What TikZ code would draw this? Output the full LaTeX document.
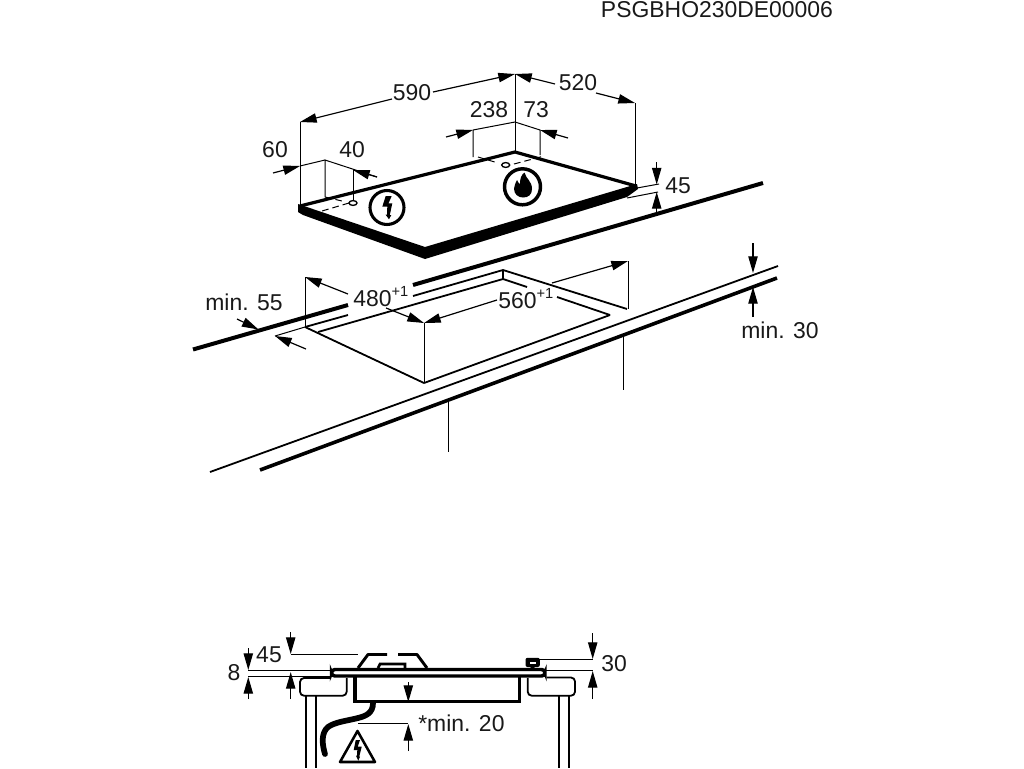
\documentclass[tikz,border=0pt]{standalone}
\usepackage{fontspec}
\setmainfont{Liberation Sans}
\usetikzlibrary{arrows.meta}
\tikzset{
  dimarrow/.style={-{Triangle[length=12.5pt,width=7pt]},line width=.9pt},
  dimline/.style={line width=.75pt},
  edgeline/.style={line width=1.35pt},
  heavyline/.style={line width=3pt},
  hobline/.style={line width=2.4pt,line join=round},
  dimtext/.style={text=black!90,font=\fontsize{17.2}{20}\selectfont,inner sep=0pt},
}
\newcommand{\plusone}{\raisebox{.42em}{\fontsize{11}{10}\selectfont +1}}
\begin{document}
\begin{tikzpicture}[x=.75pt,y=-.75pt]
\useasboundingbox (0,0) rectangle (1024,768);

\node[dimtext] (code) at (717,10) {PSGBHO230DE00006};

% hob
\fill[line join=round] (298,204)--(425,247)--(637,184)--(638,189)--(627,197)--(425,259)--(303,215)--(298,212)--cycle;
\draw[hobline] (300,206)--(515,152)--(636,186);

% hob dimensions
\draw[dimline] (300,205)--(300,122);
\draw[dimline] (515,152)--(515,74);
\draw[dimline] (635,185)--(635,103);
\draw[dimarrow] (392,99)--(300,122);
\draw[dimarrow] (433,92)--(515,74);
\draw[dimarrow] (555,84)--(515,74);
\draw[dimarrow] (596,93)--(635,103);
\node[dimtext] (w590) at (412,93) {590};
\node[dimtext] (d520) at (578,83) {520};

\draw[dimline] (325,197)--(325,160)--(377,177);
\draw[dimline] (300,166)--(325,160);
\draw[dimarrow] (273,173)--(300,166);
\draw[dimarrow] (377,177)--(353,170);
\draw[dimline] (353,170)--(353,200);
\draw[line width=1pt] (353,203) ellipse (4 and 2.4);
\draw[dimline,dash pattern=on 5pt off 3pt] (325,197)--(342,201);
\draw[dimline,dash pattern=on 5pt off 3pt] (349,203)--(322,211);
\node[dimtext] (l60) at (275,150) {60};
\node[dimtext] (l40) at (352,150) {40};

\draw[dimline] (473,157)--(473,130)--(515,122)--(540,130)--(540,155);
\draw[dimarrow] (446,137)--(473,130);
\draw[dimarrow] (568,138)--(540,130);
\draw[line width=1pt] (505.7,165) ellipse (4 and 2.4);
\draw[dimline,dash pattern=on 5pt off 3pt] (478,157)--(498,163);
\draw[dimline,dash pattern=on 5pt off 3pt] (514,164)--(544,156);
\node[dimtext] (l238) at (489,110) {238};
\node[dimtext] (l73) at (536,110) {73};

% symbols
\draw[line width=2.6pt] (522.5,186.8) circle (18);
\fill (524.5,172.5) .. controls (526,179) and (532,181) .. (532,189) .. controls (532,195) and (528,197.5) .. (523,197.5) .. controls (518,197.5) and (514,194) .. (514,188.5) .. controls (514,185) and (516,183) .. (517,180) .. controls (518,182) and (519,184) .. (520,184) .. controls (520,179) and (521,175) .. (524.5,172.5)--cycle;
\draw[line width=2.3pt] (387,207.5) circle (17);
\fill (385.7,196)--(391.7,196)--(388.5,203.3)--(392.3,203.3)--(389.8,215)--(391.3,215)--(389,219.3)--(385.5,214.5)--(387,214.5)--(387.3,206.7)--(382.3,206.7)--cycle;

% 45
\draw[dimline] (637,188)--(659,184);
\draw[dimline] (627,198)--(658,192);
\draw[dimarrow] (656.7,162)--(656.7,184.5);
\draw[dimarrow] (656.7,213)--(656.7,192);
\node[dimtext] (h45) at (678,186) {45};

% worktop
\draw[heavyline] (763,183)--(413,285);
\draw[heavyline] (348,305)--(193,349.5);
\draw[edgeline] (413,296)--(503,270);
\draw[edgeline] (348,315)--(305,327);
\draw[edgeline] (318,332)--(503,279);
\draw[edgeline] (503,270)--(503,279);
\draw[edgeline] (503,270)--(627,309);
\draw[edgeline] (503,279)--(527,287);
\draw[edgeline] (557,297)--(610,315);
\draw[edgeline] (610,315)--(424,383);
\draw[edgeline] (305,327)--(424,383);
\draw[edgeline] (210,472)--(778,266);
\draw[line width=2.7pt] (260,470)--(777,278);
\draw[edgeline] (623.5,337)--(623.5,390);
\draw[edgeline] (448.5,400)--(448.5,452);

% cutout dimensions
\draw[dimline] (305,277)--(305,327);
\draw[dimline] (424,323)--(424,383);
\draw[dimline] (628,261)--(628,309);
\draw[dimline] (305,327)--(275,336);
\draw[dimarrow] (348,294)--(305,277);
\draw[dimarrow] (386,308)--(424,323);
\draw[dimarrow] (497,300)--(424,323);
\draw[dimarrow] (552,283)--(628,261);
\draw[dimarrow] (306,349)--(275,336);
\draw[dimarrow] (237,319)--(258.5,329.5);
\node[dimtext,anchor=west] (c480) at (353,296.5) {480\plusone};
\node[dimtext,anchor=west] (c560) at (498,298.5) {560\plusone};
\node[dimtext] (m55) at (244,302) {min. 55};

\draw[dimarrow] (753,243)--(753,273);
\draw[dimarrow] (753,317)--(753,287);
\node[dimtext] (m30) at (780,330) {min. 30};

% section: hob
\draw[line width=2.6pt,rounded corners=2.5pt] (331.5,669.5) rectangle (545,676);
\draw[line width=2.6pt] (355,677)--(355,701.5)--(519.5,701.5)--(519.5,677);
\draw[line width=2.2pt,line join=round] (358,668)--(368,654.5)--(387,654.5);
\draw[line width=2.2pt,line join=round] (398,654.5)--(417,654.5)--(427,668);
\draw[line width=2pt] (378,668)--(380,664)--(405,664)--(405,668);
\fill[rounded corners=1.5pt] (525.5,657.8) rectangle (539.8,667);
\fill[white] (529.5,661.5) rectangle (536,664);
\fill (530,666)--(535,666)--(534,669)--(531,669)--cycle;

% section: worktop
\draw[edgeline,rounded corners=3pt] (331,678)--(300,678)--(300,695.7)--(346.7,695.7)--(346.7,678);
\draw[edgeline,rounded corners=3pt] (527.7,678)--(527.7,695.7)--(575,695.7)--(575,677.5)--(546.7,677.5);
\draw[edgeline] (306,696)--(306,768);
\draw[edgeline] (316,696)--(316,768);
\draw[edgeline] (559.3,696)--(559.3,768);
\draw[edgeline] (569,696)--(569,768);

% cable and warning
\draw[line width=4.3pt,line cap=round] (373,703) .. controls (373,713) and (366,716) .. (358,718) .. controls (346,721) and (335,722) .. (328,727) .. controls (321,733) and (322,744) .. (325,754);
\draw[line width=1.9pt,line join=round] (357.5,731)--(375,762)--(340,762)--cycle;
\fill (355.7,740)--(360,740)--(357.7,746.7)--(361.7,746.7)--(359.2,756.7)--(360,756.7)--(358.3,760.7)--(356,755.7)--(357,755.7)--(357.3,750)--(353.7,750)--cycle;

% section dimensions
\draw[dimline] (290.7,654.3)--(358,654.3);
\draw[dimline] (248,670)--(331,670);
\draw[dimline] (248,676)--(331,676);
\draw[dimline] (539,659.3)--(592.7,659.3);
\draw[dimline] (545,670.7)--(592.7,670.7);
\draw[dimline] (358,723.3)--(408.3,723.3);
\draw[dimarrow] (290.7,632)--(290.7,654);
\draw[dimarrow] (290.7,699)--(290.7,672);
\draw[dimarrow] (248.3,648)--(248.3,670);
\draw[dimarrow] (248.3,699)--(248.3,677);
\draw[dimarrow] (592.7,633)--(592.7,659);
\draw[dimarrow] (592.7,699)--(592.7,671);
\draw[dimarrow] (408.3,682)--(408.3,702);
\draw[dimarrow] (408.3,751)--(408.3,724);
\node[dimtext] (s45) at (269,655) {45};
\node[dimtext] (s8) at (234,673) {8};
\node[dimtext] (s30) at (614,664) {30};
\node[dimtext,anchor=west] (s20) at (418,723) {*min. 20};

\end{tikzpicture}
\end{document}
